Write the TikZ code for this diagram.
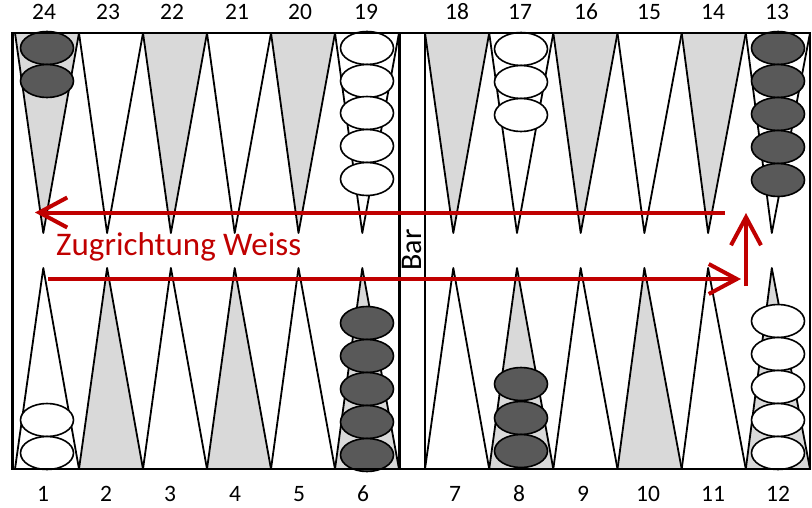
\documentclass[tikz,border=0pt]{standalone}
\usepackage{fontspec}
\setmainfont{Carlito}
\usetikzlibrary{arrows.meta}
\definecolor{pointgrey}{HTML}{D9D9D9}
\definecolor{stonedark}{HTML}{595959}
\definecolor{arrowred}{HTML}{C00000}

\begin{document}
\begin{tikzpicture}[x=1pt,y=1pt,
  greypt/.style={draw=black,line width=1.8pt,fill=pointgrey,line join=round},
  whitept/.style={draw=black,line width=1.8pt,fill=white,line join=round},
  darkstone/.style={draw=black,line width=1.6pt,fill=stonedark},
  lightstone/.style={draw=black,line width=1.6pt,fill=white},
  num/.style={font=\fontsize{23.5}{25}\selectfont},
  zugdir/.style={draw=arrowred,line width=4pt,-{Straight Barb[length=28pt,width=30pt]}}]
\tikzstyle{every node}+=[inner sep=0pt]
\fill [white] (0,0) rectangle (812,-507);
\useasboundingbox (0,0) rectangle (812,-507);
% upper points, left half (24-19)
\draw [greypt] (15,-33) -- (43.3,-233) -- (79,-33) -- cycle;
\draw [whitept] (79,-33) -- (107.1,-233) -- (143,-33) -- cycle;
\draw [greypt] (143,-33) -- (170.9,-233) -- (207,-33) -- cycle;
\draw [whitept] (207,-33) -- (234.7,-233) -- (271,-33) -- cycle;
\draw [greypt] (271,-33) -- (298.5,-233) -- (335,-33) -- cycle;
\draw [whitept] (335,-33) -- (362.3,-233) -- (399,-33) -- cycle;
% lower points, left half (1-6)
\draw [whitept] (15,-469) -- (43.3,-268) -- (79,-469) -- cycle;
\draw [greypt] (79,-469) -- (107.1,-268) -- (143,-469) -- cycle;
\draw [whitept] (143,-469) -- (170.9,-268) -- (207,-469) -- cycle;
\draw [greypt] (207,-469) -- (234.7,-268) -- (271,-469) -- cycle;
\draw [whitept] (271,-469) -- (298.5,-268) -- (335,-469) -- cycle;
\draw [greypt] (335,-469) -- (362.3,-268) -- (399,-469) -- cycle;
% upper points, right half (18-13)
\draw [greypt] (425,-33) -- (453.3,-233) -- (489.2,-33) -- cycle;
\draw [whitept] (489.2,-33) -- (517,-233) -- (553.3,-33) -- cycle;
\draw [greypt] (553.3,-33) -- (580.7,-233) -- (617.5,-33) -- cycle;
\draw [whitept] (617.5,-33) -- (644.4,-233) -- (681.7,-33) -- cycle;
\draw [greypt] (681.7,-33) -- (708.1,-233) -- (745.8,-33) -- cycle;
\draw [whitept] (745.8,-33) -- (771.8,-233) -- (810,-33) -- cycle;
% lower points, right half (7-12)
\draw [whitept] (425,-469) -- (453.3,-268) -- (489.2,-469) -- cycle;
\draw [greypt] (489.2,-469) -- (517,-268) -- (553.3,-469) -- cycle;
\draw [whitept] (553.3,-469) -- (580.7,-268) -- (617.5,-469) -- cycle;
\draw [greypt] (617.5,-469) -- (644.4,-268) -- (681.7,-469) -- cycle;
\draw [whitept] (681.7,-469) -- (708.1,-268) -- (745.8,-469) -- cycle;
\draw [greypt] (745.8,-469) -- (771.8,-268) -- (810,-469) -- cycle;
% stones on 24
\draw [darkstone] (47,-48) ellipse [x radius=26.5pt, y radius=16.5pt];
\draw [darkstone] (47,-81) ellipse [x radius=26.5pt, y radius=16.5pt];
% stones on 19
\draw [lightstone] (367,-48) ellipse [x radius=26.5pt, y radius=16.5pt];
\draw [lightstone] (367,-81) ellipse [x radius=26.5pt, y radius=16.5pt];
\draw [lightstone] (367,-113) ellipse [x radius=26.5pt, y radius=16.5pt];
\draw [lightstone] (367,-146) ellipse [x radius=26.5pt, y radius=16.5pt];
\draw [lightstone] (367,-179) ellipse [x radius=26.5pt, y radius=16.5pt];
% stones on 17
\draw [lightstone] (521,-49) ellipse [x radius=26.5pt, y radius=16.5pt];
\draw [lightstone] (521,-82) ellipse [x radius=26.5pt, y radius=16.5pt];
\draw [lightstone] (521,-115) ellipse [x radius=26.5pt, y radius=16.5pt];
% stones on 13
\draw [darkstone] (778,-48) ellipse [x radius=26.5pt, y radius=16.5pt];
\draw [darkstone] (778,-81) ellipse [x radius=26.5pt, y radius=16.5pt];
\draw [darkstone] (778,-114) ellipse [x radius=26.5pt, y radius=16.5pt];
\draw [darkstone] (778,-147) ellipse [x radius=26.5pt, y radius=16.5pt];
\draw [darkstone] (778,-180) ellipse [x radius=26.5pt, y radius=16.5pt];
% stones on 1
\draw [lightstone] (47,-420) ellipse [x radius=26.5pt, y radius=16.5pt];
\draw [lightstone] (47,-453) ellipse [x radius=26.5pt, y radius=16.5pt];
% stones on 6
\draw [darkstone] (367,-323) ellipse [x radius=26.5pt, y radius=16.5pt];
\draw [darkstone] (367,-356) ellipse [x radius=26.5pt, y radius=16.5pt];
\draw [darkstone] (367,-389) ellipse [x radius=26.5pt, y radius=16.5pt];
\draw [darkstone] (367,-422) ellipse [x radius=26.5pt, y radius=16.5pt];
\draw [darkstone] (367,-455) ellipse [x radius=26.5pt, y radius=16.5pt];
% stones on 8
\draw [darkstone] (521,-384) ellipse [x radius=26.5pt, y radius=16.5pt];
\draw [darkstone] (521,-418) ellipse [x radius=26.5pt, y radius=16.5pt];
\draw [darkstone] (521,-451) ellipse [x radius=26.5pt, y radius=16.5pt];
% stones on 12
\draw [lightstone] (778,-321) ellipse [x radius=26.5pt, y radius=16.5pt];
\draw [lightstone] (778,-354) ellipse [x radius=26.5pt, y radius=16.5pt];
\draw [lightstone] (778,-387) ellipse [x radius=26.5pt, y radius=16.5pt];
\draw [lightstone] (778,-420) ellipse [x radius=26.5pt, y radius=16.5pt];
\draw [lightstone] (778,-453) ellipse [x radius=26.5pt, y radius=16.5pt];
% board and bar
\draw [black, line width=2.8pt] (12.5,-33) rectangle (810,-469);
\draw [black, line width=2.4pt] (399.5,-33) -- (399.5,-469);
\draw [black, line width=2.4pt] (425,-33) -- (425,-469);
\node [rotate=90, font=\fontsize{30}{31}\selectfont] (bar) at (412,-250) {Bar};
% point numbers
\node [num] (p24) at (44,-12) {24};
\node [num] (p23) at (108,-12) {23};
\node [num] (p22) at (172,-12) {22};
\node [num] (p21) at (237,-12) {21};
\node [num] (p20) at (300,-12) {20};
\node [num] (p19) at (366,-12) {19};
\node [num] (p18) at (457,-12) {18};
\node [num] (p17) at (520,-12) {17};
\node [num] (p16) at (586,-12) {16};
\node [num] (p15) at (649,-12) {15};
\node [num] (p14) at (713,-12) {14};
\node [num] (p13) at (777,-12) {13};
\node [num] (p1) at (43,-494) {1};
\node [num] (p2) at (106,-494) {2};
\node [num] (p3) at (170,-494) {3};
\node [num] (p4) at (235,-494) {4};
\node [num] (p5) at (299,-494) {5};
\node [num] (p6) at (363,-494) {6};
\node [num] (p7) at (455,-494) {7};
\node [num] (p8) at (519,-494) {8};
\node [num] (p9) at (583,-494) {9};
\node [num] (p10) at (648,-494) {10};
\node [num] (p11) at (713,-494) {11};
\node [num] (p12) at (778,-494) {12};
% direction of play
\coordinate (topR) at (725,-212.5);
\coordinate (topL) at (35,-212.5);
\coordinate (botL) at (48,-279);
\coordinate (botR) at (741,-279);
\coordinate (upB) at (746,-286);
\coordinate (upT) at (746,-213);
\draw [zugdir] (topR) -- (topL);
\draw [zugdir] (botL) -- (botR);
\draw [zugdir] (upB) -- (upT);
\node [anchor=base west, text=arrowred, font=\fontsize{33}{36}\selectfont] (zug) at (56,-255) {Zugrichtung Weiss};
\end{tikzpicture}
\end{document}
